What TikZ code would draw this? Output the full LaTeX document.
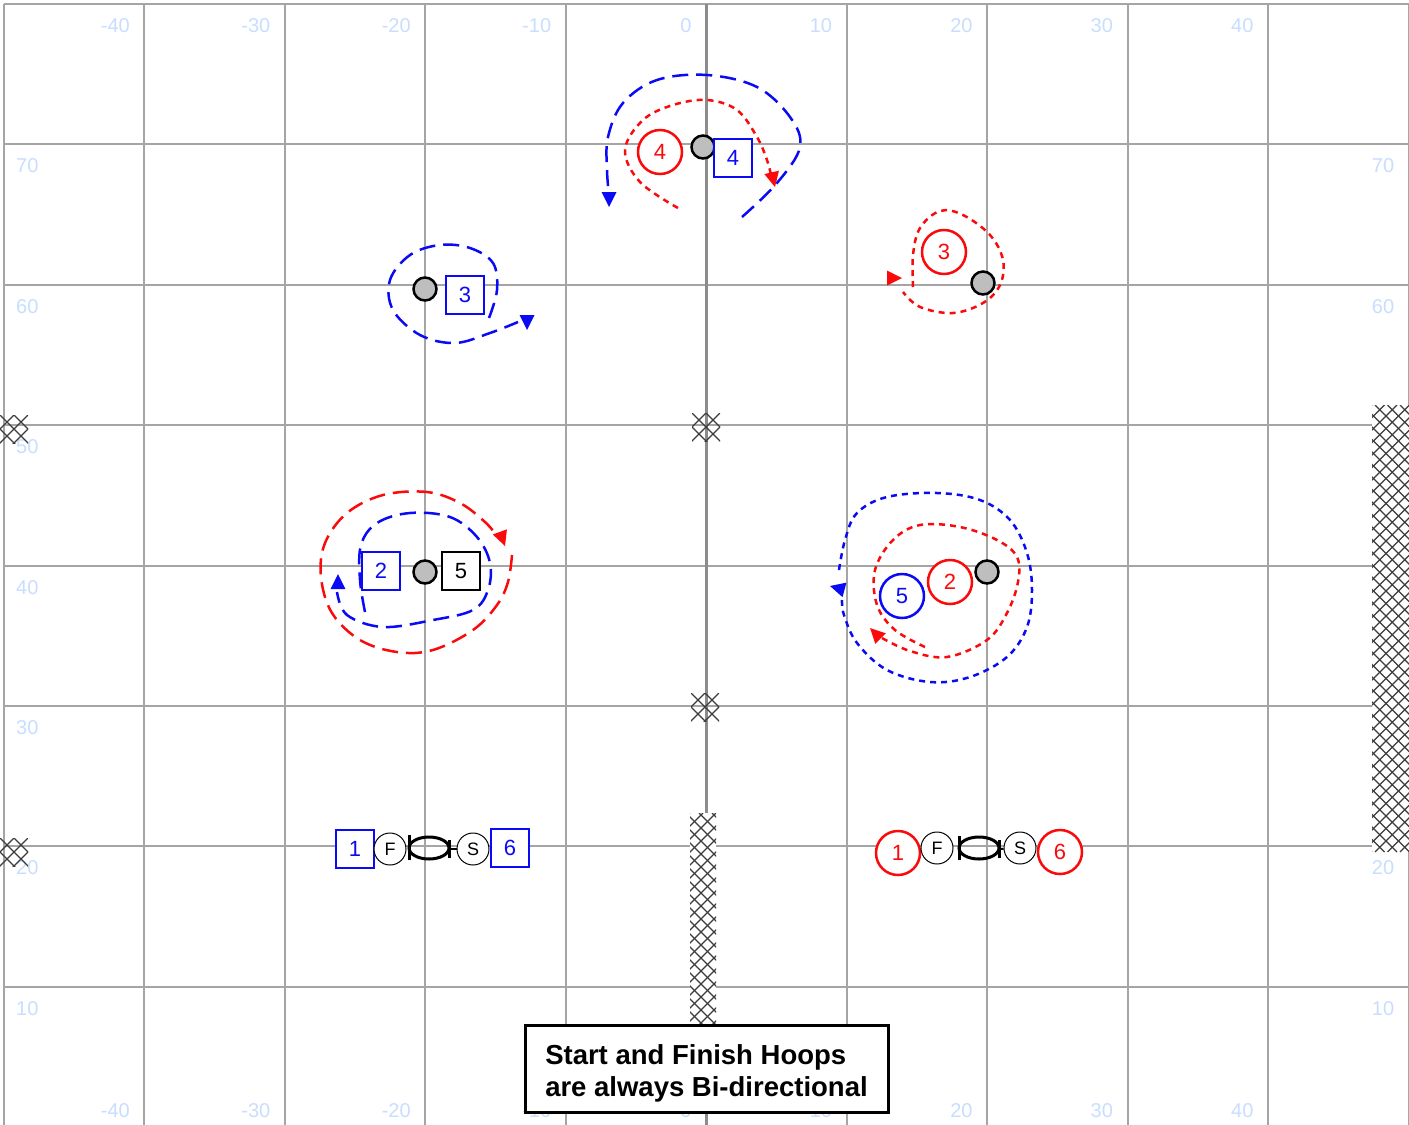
\documentclass[tikz,border=0pt]{standalone}
\usepackage{fontspec}
\setmainfont{Liberation Sans}
\definecolor{myblue}{RGB}{10,10,245}
\definecolor{myred}{RGB}{250,10,10}
\definecolor{axblue}{RGB}{200,222,255}
\definecolor{gridc}{RGB}{165,165,165}
\definecolor{midc}{RGB}{140,140,140}
\definecolor{hoopg}{RGB}{190,190,190}
\definecolor{hatchc}{RGB}{60,60,60}
\tikzset{
  gridl/.style={draw=gridc, line width=2},
  axl/.style={text=axblue, font=\fontsize{20}{20}\selectfont, inner sep=0},
  hoop/.style={circle, fill=hoopg, draw=black, line width=2.5, minimum size=23, inner sep=0},
  bsq/.style={rectangle, draw=myblue, fill=white, line width=2.5, minimum size=38, inner sep=0, text=myblue, font=\fontsize{22}{22}\selectfont},
  ksq/.style={rectangle, draw=black, fill=white, line width=2.5, minimum size=38, inner sep=0, text=black, font=\fontsize{22}{22}\selectfont},
  rcirc/.style={circle, draw=myred, fill=white, line width=2.5, minimum size=44, inner sep=0, text=myred, font=\fontsize{22}{22}\selectfont},
  bcirc/.style={circle, draw=myblue, fill=white, line width=2.5, minimum size=44, inner sep=0, text=myblue, font=\fontsize{22}{22}\selectfont},
  fscirc/.style={circle, draw=black, fill=white, line width=1, minimum size=32, inner sep=0, font=\fontsize{18}{18}\selectfont},
  bdash/.style={draw=myblue, line width=2.5, dash pattern=on 16pt off 8pt},
  rdash/.style={draw=myred, line width=2.5, dash pattern=on 16pt off 8pt},
  rdot/.style={draw=myred, line width=2.5, dash pattern=on 6pt off 5pt},
  bdot/.style={draw=myblue, line width=2.5, dash pattern=on 6pt off 5pt},
  hatchl/.style={draw=hatchc, line width=1.1},
  hoopbar/.style={draw=black, line width=3},
}
\newcommand{\mytri}[4]{\fill[#1, shift={(#2,#3)}, rotate=#4] (0,0) -- (-15,7.5) -- (-15,-7.5) -- cycle;}
\newcommand{\mymark}[2]{%
  \begin{scope}
  \clip (#1-14,#2-14) rectangle (#1+14,#2+14);
  \foreach \d in {-14,0,14}{%
    \draw[hatchl] (#1+\d-20,#2-20) -- (#1+\d+20,#2+20);
    \draw[hatchl] (#1+\d-20,#2+20) -- (#1+\d+20,#2-20);
  }
  \end{scope}}
\begin{document}
\begin{tikzpicture}[x=1pt,y=-1pt]
\useasboundingbox (0,0) rectangle (1409,1125);
\fill[white] (0,0) rectangle (1409,1125);
% grid
\foreach \i in {0,...,10}{
  \draw[gridl] (4+140.45*\i,4) -- (4+140.45*\i,1125);
}
\foreach \j in {0,...,7}{
  \draw[gridl] (4,4+140.4*\j) -- (1409,4+140.4*\j);
}
\draw[draw=midc, line width=3] (706.25,4) -- (706.25,1125);
% axis labels top and bottom
\foreach \v [count=\i from 0] in {-40,-30,-20,-10,0,10,20,30,40}{
  \node[axl, anchor=east] (tl\i) at (130+140.45*\i,26) {\v};
  \node[axl, anchor=east] (bl\i) at (130+140.45*\i,1111) {\v};
}
% axis labels left and right
\foreach \v [count=\j from 0] in {70,60,50,40,30,20,10}{
  \node[axl, anchor=west] (ll\j) at (16,166+140.4*\j) {\v};
  \node[axl] (rl\j) at (1383,166+140.4*\j) {\v};
}
% hatched strips
\begin{scope}
  \fill[white] (1372,405) rectangle (1409,852);
  \clip (1372,405) rectangle (1409,852);
  \foreach \k in {0,...,40}{
    \draw[hatchl] (1372-447+12.5*\k,405) -- ++(447,447);
    \draw[hatchl] (1372+12.5*\k,405) -- ++(-447,447);
  }
\end{scope}
\begin{scope}
  \fill[white] (690,813) rectangle (716,1025);
  \clip (690,813) rectangle (716,1025);
  \foreach \k in {0,...,19}{
    \draw[hatchl] (690-212+13*\k,813) -- ++(212,212);
    \draw[hatchl] (690+13*\k,813) -- ++(-212,212);
  }
\end{scope}
\mymark{14}{429}
\mymark{706}{427}
\mymark{705}{707}
\mymark{14}{852}
% ---- top group (4)
\draw[bdash] plot[smooth, tension=0.6] coordinates {(742,217) (777,183) (800,147) (790,117) (757,87) (707,75) (657,80) (623,103) (608,137) (607,170) (609,195)};
\mytri{myblue}{609}{207}{-90}
\draw[rdot] plot[smooth, tension=0.6] coordinates {(678,208) (640,182) (625,150) (643,120) (673,105) (707,100) (737,110) (757,137) (767,160) (771,175)};
\mytri{myred}{775}{187}{-77}
\node[hoop] (h4) at (703,147) {};
\node[rcirc] (r4) at (660,152) {4};
\node[bsq] (b4) at (733,158) {4};
% ---- left 3
\draw[bdash] plot[smooth, tension=0.6] coordinates {(489,318) (497,290) (493,263) (470,248) (440,245) (410,255) (390,280) (393,310) (420,335) (455,343) (490,333) (518,322)};
\mytri{myblue}{527}{330}{-90}
\node[hoop] (h3l) at (425,289) {};
\node[bsq] (b3) at (465,295) {3};
% ---- right 3
\draw[rdot] plot[smooth, tension=0.6] coordinates {(913,287) (913,255) (920,228) (940,211) (963,215) (990,235) (1003,260) (1000,285) (983,303) (953,313) (920,307) (903,292)};
\mytri{myred}{902}{278}{0}
\node[rcirc] (r3) at (944,252) {3};
\node[hoop] (h3r) at (983,283) {};
% ---- left group 2/5
\draw[rdash] plot[smooth, tension=0.6] coordinates {(512,555) (508,582) (497,605) (473,630) (433,650) (397,652) (360,640) (332,613) (321,577) (325,543) (347,513) (383,495) (427,492) (460,503) (485,522) (497,536)};
\mytri{myred}{505}{546}{-70}
\draw[bdash] plot[smooth, tension=0.6] coordinates {(365,612) (360,580) (361,545) (377,523) (410,513) (450,517) (477,537) (490,563) (488,590) (473,610) (433,620) (383,627) (347,615) (337,592)};
\mytri{myblue}{338}{574}{90}
\node[bsq] (b2) at (381,571) {2};
\node[hoop] (h2l) at (425,572) {};
\node[ksq] (k5) at (461,571) {5};
% ---- right group 2/5
\draw[bdot] plot[smooth, tension=0.6] coordinates {(839,570) (845,540) (857,513) (887,497) (937,493) (980,500) (1010,520) (1027,553) (1032,590) (1027,627) (1007,657) (970,677) (930,682) (887,670) (857,643) (844,615) (842,600)};
\mytri{myblue}{830}{586}{165}
\draw[rdot] plot[smooth, tension=0.6] coordinates {(925,647) (895,630) (877,605) (875,570) (893,540) (920,525) (960,527) (997,540) (1017,557) (1018,582) (1007,613) (987,640) (947,657) (910,651) (882,638)};
\mytri{myred}{870}{628}{135}
\node[hoop] (h2r) at (987,572) {};
\node[rcirc] (r2) at (950,582) {2};
\node[bcirc] (c5) at (902,596) {5};
% ---- bottom left start/finish
\node[bsq] (b1) at (355,849) {1};
\node[fscirc] (fl) at (390,849) {F};
\draw[hoopbar] (429,848) ellipse [x radius=20, y radius=11];
\draw[hoopbar] (409,835) -- (409,860);
\draw[hoopbar] (449,840) -- (449,858);
\node[fscirc] (sl) at (473,849) {S};
\draw[line width=2] (449,849) -- (sl);
\node[bsq] (b6) at (510,848) {6};
% ---- bottom right start/finish
\node[rcirc] (r1) at (898,853) {1};
\node[fscirc] (fr) at (937,848) {F};
\draw[hoopbar] (979,848) ellipse [x radius=20, y radius=11];
\draw[hoopbar] (959,836) -- (959,860);
\draw[hoopbar] (999,840) -- (999,858);
\node[fscirc] (sr) at (1020,848) {S};
\draw[line width=2] (999,849) -- (sr);
\node[rcirc] (r6) at (1060,852) {6};
% ---- note box
\node[draw=black, fill=white, line width=3, minimum width=363, minimum height=87] (note) at (706.5,1068.5) {};
\node[align=left, inner sep=0, font=\fontsize{27.5}{32}\selectfont\bfseries] (notetext) at (706.5,1073) {Start and Finish Hoops\\are always Bi-directional};
\end{tikzpicture}
\end{document}
